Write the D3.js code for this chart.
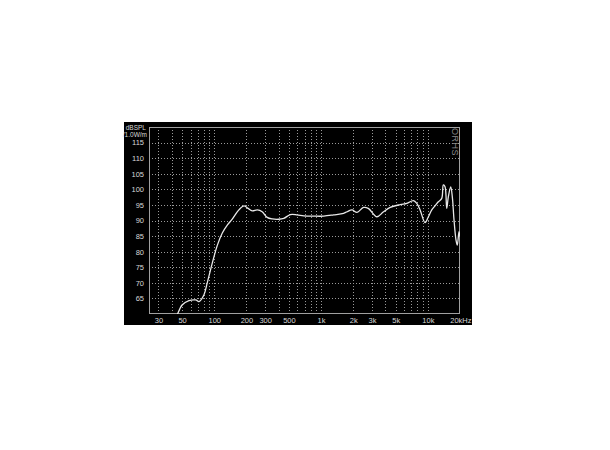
<!DOCTYPE html>
<html><head><meta charset="utf-8">
<script src="https://cdn.jsdelivr.net/npm/d3@7"></script>
<style>html,body{margin:0;padding:0;background:#fff;}svg{display:block;}</style>
</head><body>
<svg id="c" width="610" height="450"></svg>
<script>
const freqs = [42, 45, 50, 58, 67, 72, 80, 86, 96, 107, 119, 133, 148, 170, 190, 207, 227, 253, 281, 313, 349, 402, 448, 517, 597, 689, 853, 1059, 1312, 1627, 1750, 1950, 2170, 2500, 2768, 3336, 3820, 4440, 5508, 6356, 7328, 7880, 8464, 9422, 10116, 10882, 11684, 12542, 13494, 13964, 14488, 15024, 15550, 16376, 16948, 17580, 18354, 18872, 19576, 20000];
const spl   = [57.5, 59.7, 62.9, 64.3, 64.5, 64.0, 66.1, 70.0, 76.4, 82.1, 86.0, 88.6, 90.5, 93.4, 94.7, 93.9, 93.1, 93.4, 92.8, 91.0, 90.5, 90.4, 90.7, 91.9, 91.8, 91.5, 91.4, 91.4, 91.8, 92.3, 92.8, 93.4, 92.6, 94.2, 93.9, 91.2, 92.7, 94.2, 95.1, 95.5, 96.4, 95.5, 93.4, 89.3, 91.2, 93.4, 94.7, 96.0, 97.1, 101.4, 100.8, 93.9, 97.6, 100.8, 97.6, 90.2, 83.7, 82.1, 86.4, 84.8];

const gridFreqs = [30, 40, 50, 60, 70, 80, 90, 100, 200, 300, 400, 500, 600, 700, 800, 900, 1000, 2000, 3000, 4000, 5000, 6000, 7000, 8000, 9000, 10000];
const xTickVals = [30, 50, 100, 200, 300, 500, 1000, 2000, 3000, 5000, 10000, 20000];
const xTickLabels = ["30", "50", "100", "200", "300", "500", "1k", "2k", "3k", "5k", "10k", "20kHz"];
const yTickVals = [65, 70, 75, 80, 85, 90, 95, 100, 105, 110, 115];
const yUnitLabels = ["dBSPL", "/1.0W/m"];
const brandLabel = "ORHS";

const svg = d3.select("#c");
const L = 149, R = 460, T = 127, B = 314;
const x = d3.scaleLog().domain([24.5, 20000]).range([L, R]);
const y = d3.scaleLinear().domain([60, 120]).range([B, T]);

svg.append("rect").attr("x", 124).attr("y", 122).attr("width", 348).attr("height", 203).attr("fill", "#000");

const gridColor = "#9a9a9a";
const g = svg.append("g");
g.selectAll("line.h").data(yTickVals).join("line")
  .attr("x1", L).attr("x2", R).attr("y1", d => Math.round(y(d)) + 0.5).attr("y2", d => Math.round(y(d)) + 0.5)
  .attr("stroke", gridColor).attr("stroke-width", 1).attr("stroke-dasharray", "1,2");
g.selectAll("line.v").data(gridFreqs).join("line")
  .attr("y1", T).attr("y2", B).attr("x1", d => Math.round(x(d)) + 0.5).attr("x2", d => Math.round(x(d)) + 0.5)
  .attr("stroke", gridColor).attr("stroke-width", 1).attr("stroke-dasharray", "1,2");

svg.append("rect").attr("x", L + 0.5).attr("y", T + 0.5).attr("width", R - L - 1).attr("height", B - T - 1)
  .attr("fill", "none").attr("stroke", "#a0a0a0").attr("stroke-width", 1);

const fontFam = "'Liberation Sans', Arial, sans-serif";
const xAxis = d3.axisBottom(x).tickValues(xTickVals).tickSize(0).tickPadding(0)
  .tickFormat((d, i) => xTickLabels[i]);
const xa = svg.append("g").attr("transform", `translate(0,${B + 9})`).call(xAxis);
xa.select(".domain").remove();
xa.selectAll("text").attr("fill", "#d8d8d8").attr("font-size", 7.5).attr("font-family", fontFam).attr("dy", "0");
xa.selectAll(".tick").filter((d, i) => i === xTickVals.length - 1).select("text").attr("text-anchor", "end").attr("dx", 11);

const yAxis = d3.axisLeft(y).tickValues(yTickVals).tickSize(0).tickPadding(0);
const ya = svg.append("g").attr("transform", `translate(144,0)`).call(yAxis);
ya.select(".domain").remove();
ya.selectAll("text").attr("fill", "#d8d8d8").attr("font-size", 7.5).attr("font-family", fontFam);

svg.append("text").attr("x", 146).attr("y", 130).attr("text-anchor", "end").attr("fill", "#d8d8d8")
  .attr("font-size", 6.5).attr("font-family", fontFam).text(yUnitLabels[0]);
svg.append("text").attr("x", 147).attr("y", 137).attr("text-anchor", "end").attr("fill", "#d8d8d8")
  .attr("font-size", 6.5).attr("font-family", fontFam).text(yUnitLabels[1]);

svg.append("text").attr("transform", "translate(452,128) rotate(90)").attr("fill", "#8a8a8a")
  .attr("font-size", 9).attr("font-family", fontFam).attr("letter-spacing", 0.5).text(brandLabel);

svg.append("clipPath").attr("id", "pc").append("rect").attr("x", L).attr("y", T).attr("width", R - L).attr("height", B - T);
const data = freqs.map((f, i) => [f, spl[i]]);
const line = d3.line().x(d => x(d[0])).y(d => y(d[1])).curve(d3.curveCatmullRom.alpha(0.5));
svg.append("path").datum(data).attr("clip-path", "url(#pc)").attr("d", line)
  .attr("fill", "none").attr("stroke", "#e8e8e8").attr("stroke-width", 1.3);
</script>
</body></html>
